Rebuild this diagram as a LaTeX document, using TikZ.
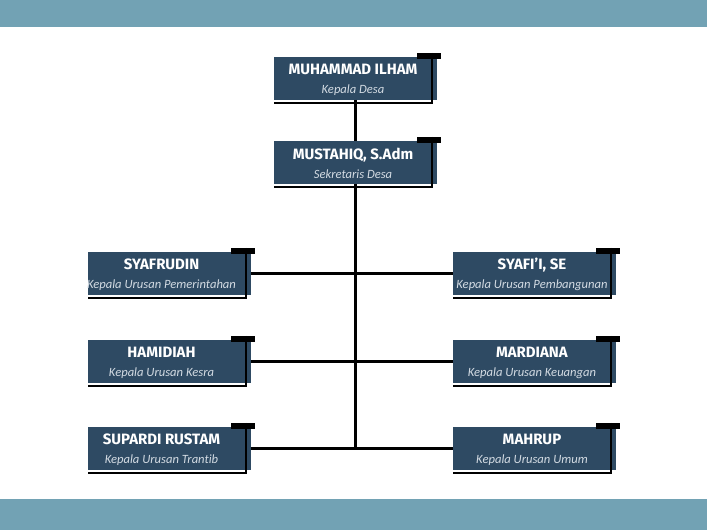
\documentclass[tikz,border=0pt]{standalone}
\usepackage{fontspec}
\setmainfont{Fira Sans}
\newfontfamily\jabatanfont[RawFeature={-liga;-clig;-dlig}]{Carlito}
\usetikzlibrary{positioning}
\definecolor{band}{HTML}{72A2B4}
\definecolor{boxblue}{HTML}{2E4A63}
\definecolor{subtitle}{HTML}{D3DBE3}
\newcommand{\jabatan}[1]{{\jabatanfont\fontsize{12.6}{13}\selectfont\itshape\color{subtitle}#1}}

\begin{document}
\begin{tikzpicture}[x=1pt,y=1pt,node distance=41pt,
    unit/.style={fill=boxblue,minimum width=163pt,minimum height=43pt,inner sep=0pt,outer sep=0pt},
    txt/.style={text=white,align=center,xshift=-2.5pt,yshift=-1pt,font=\fontsize{15}{19}\selectfont},
    link/.style={line width=2.8pt},
    corner/.style={line width=1.8pt}]
  \fill[white] (0,0) rectangle (707,530);
  \useasboundingbox (0,0) rectangle (707,530);
  \fill[band] (0,503) rectangle (707,530);
  \fill[band] (0,0) rectangle (707,31);

  \node[unit,label={[txt]center:{\textbf{MUHAMMAD ILHAM}\\\jabatan{Kepala Desa}}}] (kades) at (355.5,451.5) {};
  \node[unit,label={[txt]center:{\textbf{MUSTAHIQ, S.Adm}\\\jabatan{Sekretaris Desa}}}] (sekdes) [below=of kades] {};

  \node[unit,label={[txt,xshift=-5.5pt]center:{\textbf{SYAFRUDIN}\\\jabatan{Kepala Urusan Pemerintahan}}}] (pem) [below left=68pt and 23pt of sekdes] {};
  \node[unit,label={[txt,xshift=-5.5pt]center:{\textbf{HAMIDIAH}\\\jabatan{Kepala Urusan Kesra}}}] (kesra) [below=45pt of pem] {};
  \node[unit,label={[txt,xshift=-5.5pt]center:{\textbf{SUPARDI RUSTAM}\\\jabatan{Kepala Urusan Trantib}}}] (trantib) [below=44pt of kesra] {};

  \node[unit,label={[txt]center:{\textbf{SYAFI'I, SE}\\\jabatan{Kepala Urusan Pembangunan}}}] (bang) [below right=68pt and 16pt of sekdes] {};
  \node[unit,label={[txt]center:{\textbf{MARDIANA}\\\jabatan{Kepala Urusan Keuangan}}}] (keu) [below=45pt of bang] {};
  \node[unit,label={[txt]center:{\textbf{MAHRUP}\\\jabatan{Kepala Urusan Umum}}}] (umum) [below=44pt of keu] {};

  % garis penghubung
  \draw[link] (kades) -- (sekdes);
  \draw[link] (sekdes.south) -- (sekdes.south |- umum.west);
  \draw[link] (pem) -- (bang);
  \draw[link] (kesra) -- (keu);
  \draw[link] (trantib) -- (umum);

  % siku hitam tiap kotak
  \foreach \n in {kades,sekdes,pem,kesra,trantib,bang,keu,umum}{
    \fill ([xshift=-20pt,yshift=4pt]\n.north east) rectangle ([xshift=4pt,yshift=-2pt]\n.north east);
    \draw[corner] ([xshift=-5pt,yshift=4pt]\n.north east) -- ([xshift=-5pt,yshift=-3pt]\n.south east)
      -- ([yshift=-3pt]\n.south west);
  }
\end{tikzpicture}
\end{document}
